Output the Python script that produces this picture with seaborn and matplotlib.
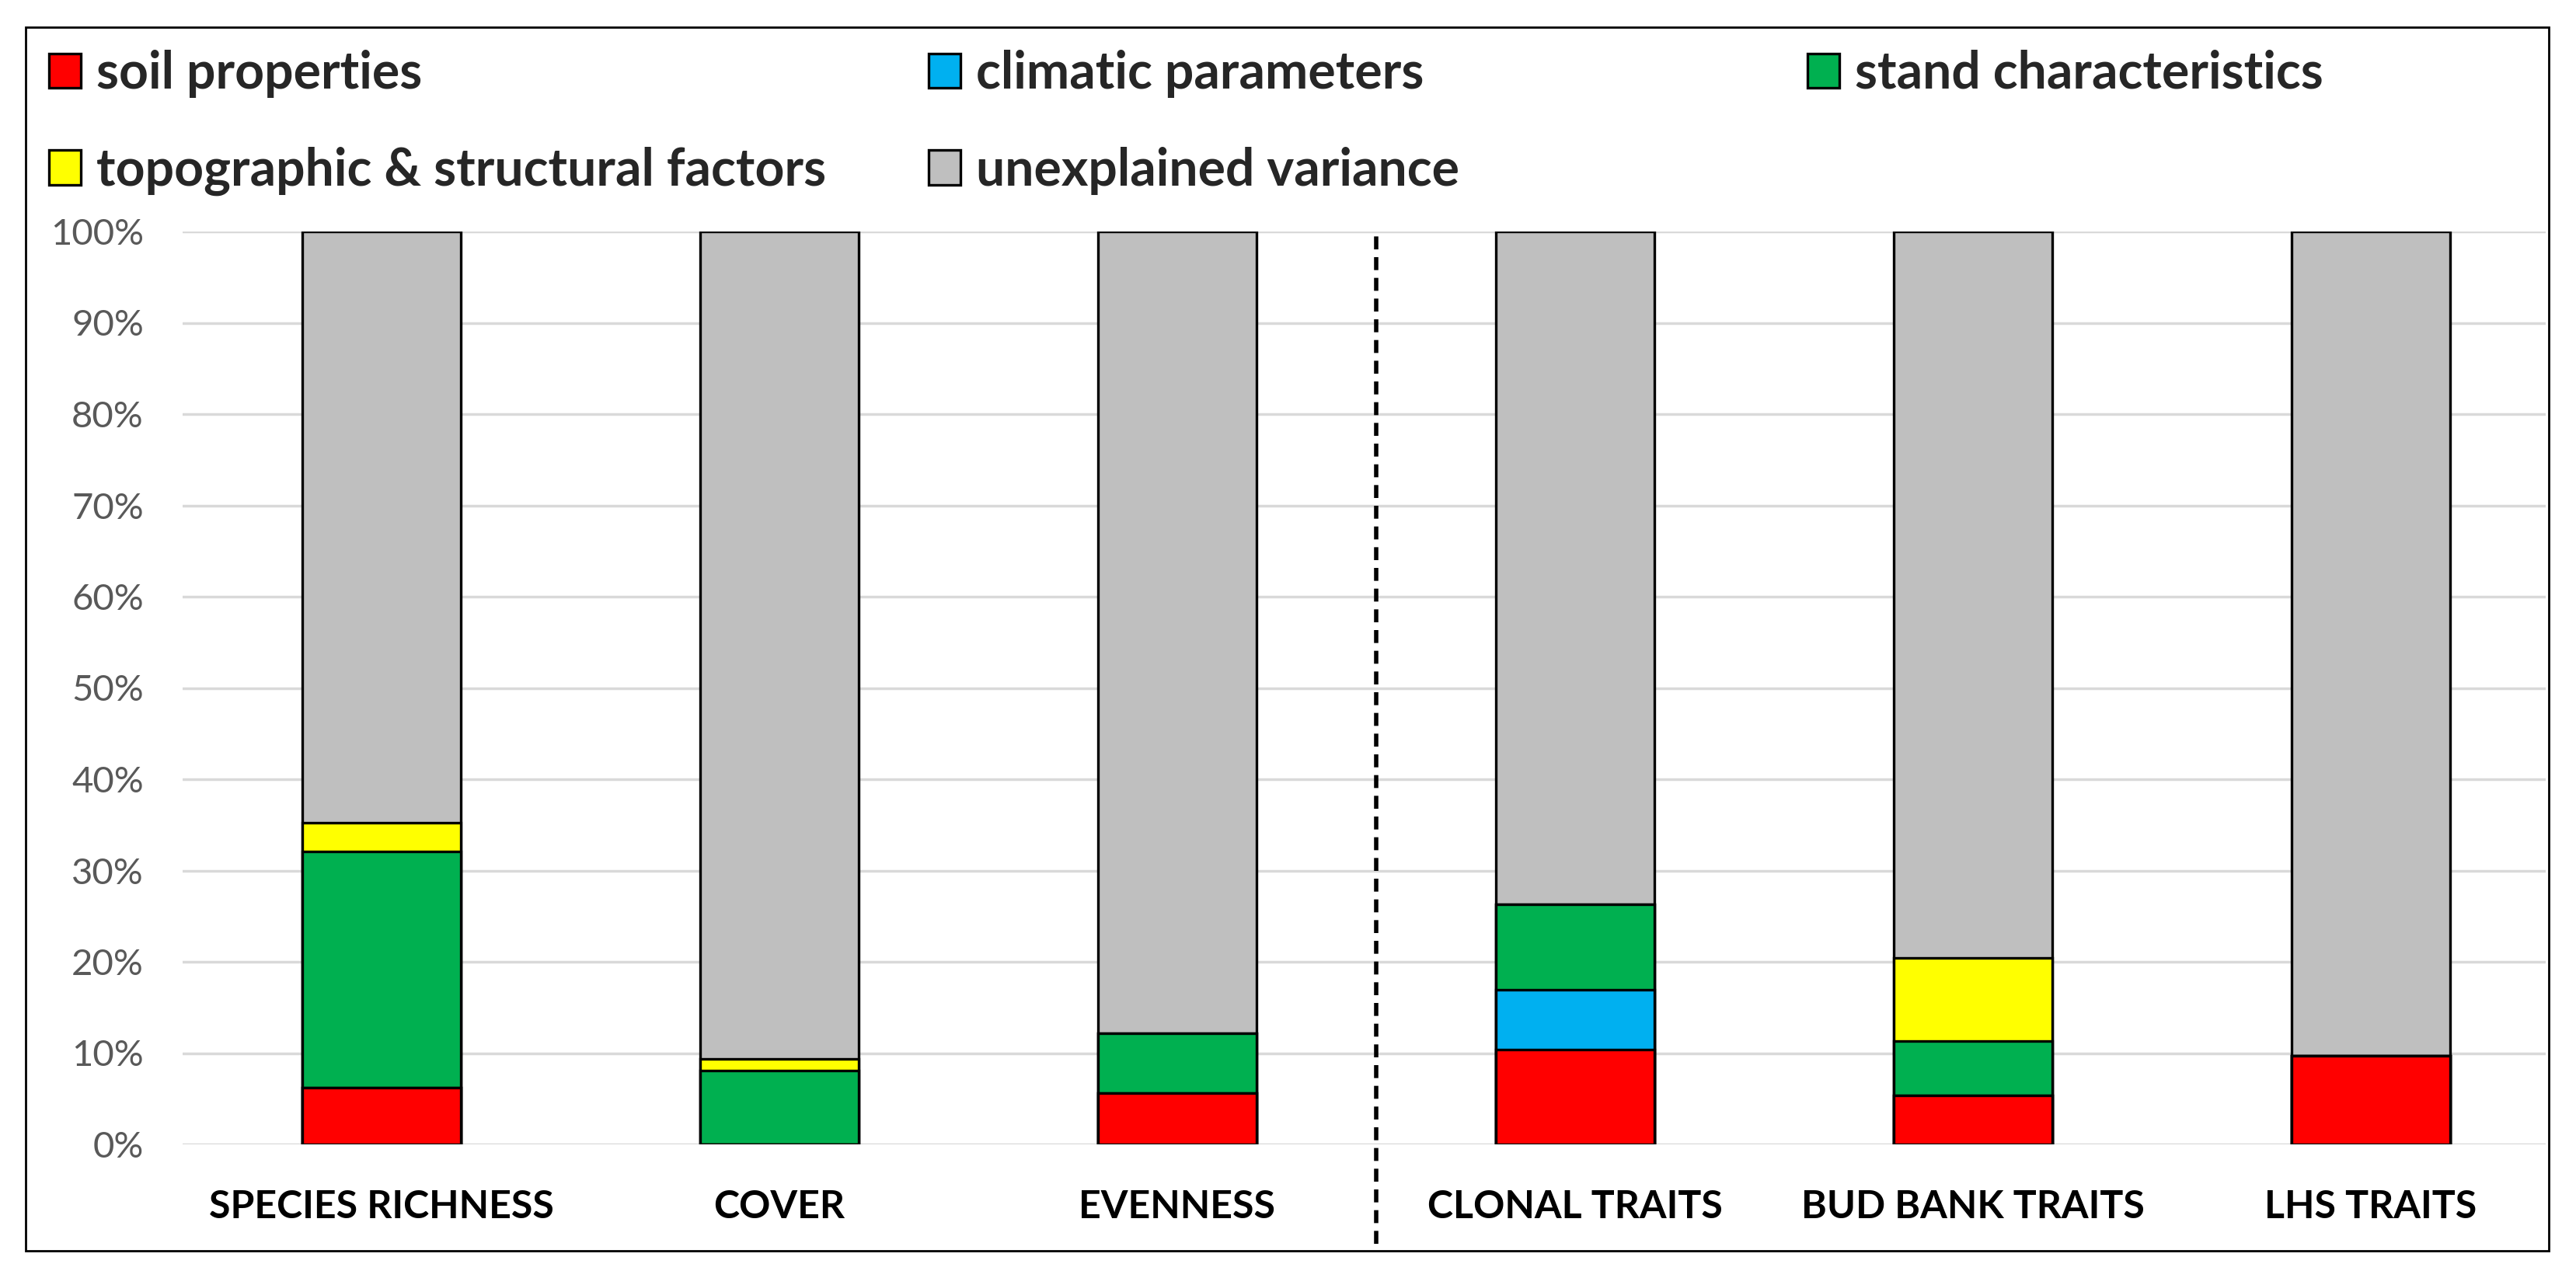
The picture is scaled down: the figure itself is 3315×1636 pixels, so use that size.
import numpy as np
import pandas as pd
import matplotlib
matplotlib.use("Agg")
import matplotlib.pyplot as plt
from matplotlib.patches import Patch, Rectangle
import seaborn as sns

# variance partitioning per response (percent of total)
traits = ['SPECIES RICHNESS', 'COVER', 'EVENNESS', 'CLONAL TRAITS', 'BUD BANK TRAITS', 'LHS TRAITS']
soil = [6.2, 0.0, 5.6, 10.4, 5.4, 9.7]
climatic = [0.0, 0.0, 0.0, 6.5, 0.0, 0.0]
stand = [25.9, 8.1, 6.6, 9.4, 5.9, 0.0]
topo = [3.1, 1.3, 0.0, 0.0, 9.1, 0.0]

components = ['soil properties', 'climatic parameters', 'stand characteristics',
              'topographic & structural factors', 'unexplained variance']
colors = ['#FF0000', '#00B0F0', '#00B050', '#FFFF00', '#BFBFBF']

parts = np.array([soil, climatic, stand, topo])
unexplained = 100 - parts.sum(axis=0)
parts = np.vstack([parts, unexplained])
tops = np.cumsum(parts, axis=0)

rows = []
for ci, comp in enumerate(components):
    for ti, tr in enumerate(traits):
        rows.append({'trait': tr, 'component': comp, 'top': tops[ci, ti]})
df = pd.DataFrame(rows)

sns.set_theme(style='white')
plt.rcParams['font.family'] = ['Lato', 'DejaVu Sans']

W, H = 3316, 1636
fig = plt.figure(figsize=(W / 100, H / 100), dpi=100)
ax = fig.add_axes([235 / W, 1 - 1473 / H, (3276 - 235) / W, (1473 - 298) / H])

# stacked look: draw cumulative bars from the top component down
for comp, col in reversed(list(zip(components, colors))):
    sub = df[df.component == comp]
    sns.barplot(data=sub, x='trait', y='top', color=col, edgecolor='black',
                linewidth=2.4, width=0.4, saturation=1, ax=ax, order=traits)

ax.set_xlim(-0.5, -0.5 + (3276 - 235) / 512)
ax.set_ylim(0, 100)
ax.set_yticks(np.arange(0, 101, 10))
ax.set_yticklabels([f'{v}%' for v in range(0, 101, 10)], fontsize=34, color='#595959')
ax.set_xticks(range(len(traits)))
ax.set_xticklabels(traits, fontsize=36, fontweight='bold', color='black')
ax.tick_params(axis='y', length=0, pad=36)
ax.tick_params(axis='x', length=0, pad=42)
ax.set_xlabel('')
ax.set_ylabel('')
ax.yaxis.grid(True, color='#d9d9d9', linewidth=2.5)
ax.xaxis.grid(False)
ax.set_axisbelow(True)
for s in ax.spines.values():
    s.set_visible(False)

ax.axvline(2.5, ymin=-0.109, ymax=1, color='black', lw=4,
           linestyle=(0, (3, 1.8)), clip_on=False)

# legend in three Excel-style columns
handles = [Patch(facecolor=c, edgecolor='black', linewidth=2.4) for c in colors]
cols = [[0, 3], [1, 4], [2]]
xs = [63, 1195, 2326]
for idx, x0 in zip(cols, xs):
    fig.legend([handles[i] for i in idx], [components[i] for i in idx],
               loc='upper left', bbox_to_anchor=(x0 / W, 1 - 64 / H),
               frameon=False, borderpad=0, borderaxespad=0,
               handlelength=0.62, handleheight=0.66, handletextpad=0.3,
               labelspacing=0.95, prop={'family': 'Lato', 'weight': 'bold', 'size': 47.5})

fig.add_artist(Rectangle((33 / W, 1 - 1610 / H), (3280 - 33) / W, (1610 - 35) / H,
                         transform=fig.transFigure, fill=False, edgecolor='black', lw=2))

fig.savefig('out.png', dpi=100, facecolor='white')
